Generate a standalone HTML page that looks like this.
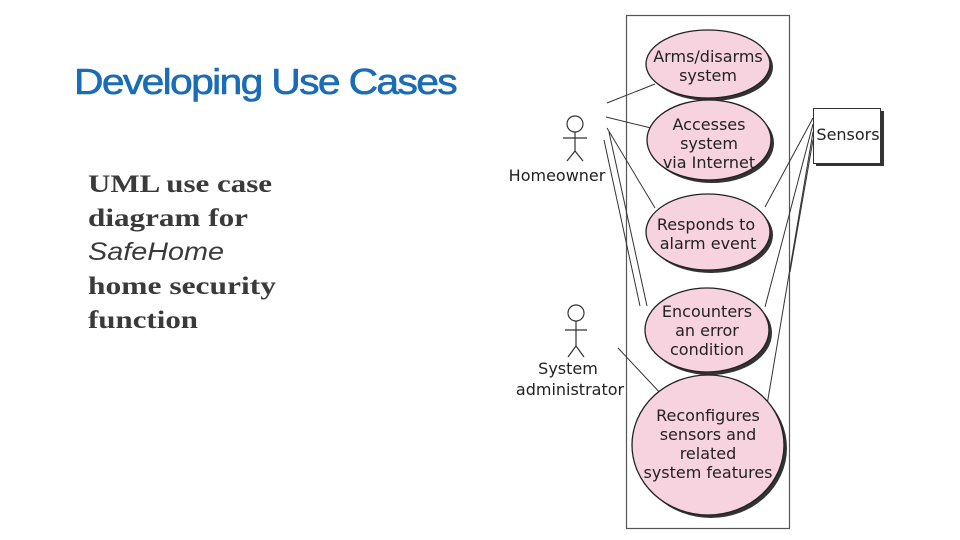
<!DOCTYPE html>
<html><head><meta charset="utf-8"><style>
html,body{margin:0;padding:0;background:#fff;width:960px;height:540px;overflow:hidden}
</style></head><body>
<svg width="960" height="540" viewBox="0 0 960 540" xmlns="http://www.w3.org/2000/svg">
<text x="74" y="94" font-family="Liberation Sans, sans-serif" font-size="36" fill="#1b6cb6" stroke="#1b6cb6" stroke-width="0.6" letter-spacing="-1.5" textLength="382" lengthAdjust="spacingAndGlyphs">Developing Use Cases</text>
<g font-family="Liberation Serif, serif" font-weight="bold" font-size="25" fill="#3a3a3a">
<text x="88" y="192" textLength="184" lengthAdjust="spacingAndGlyphs">UML use case</text>
<text x="88" y="226" textLength="160" lengthAdjust="spacingAndGlyphs">diagram for</text>
<text x="88" y="260" font-style="italic" font-weight="normal" font-family="Liberation Sans, sans-serif" textLength="136" lengthAdjust="spacingAndGlyphs">SafeHome</text>
<text x="88" y="294" textLength="188" lengthAdjust="spacingAndGlyphs">home security</text>
<text x="88" y="328" textLength="110" lengthAdjust="spacingAndGlyphs">function</text>
</g>
<rect x="626.5" y="15.5" width="163" height="513" fill="#fff" stroke="#555" stroke-width="1.2"/>
<g stroke="#333" stroke-width="1" fill="none">
<line x1="607" y1="103" x2="655" y2="84"/>
<line x1="606" y1="117" x2="651" y2="128"/>
<line x1="607" y1="128" x2="655" y2="208"/>
<line x1="609" y1="132" x2="647" y2="306"/>
<line x1="604" y1="140" x2="640" y2="306"/>
<line x1="618" y1="348" x2="663" y2="396"/>
<line x1="813" y1="118" x2="765" y2="207"/>
<line x1="813" y1="124" x2="765" y2="307"/>
<line x1="813" y1="132" x2="767" y2="405"/>
<line x1="813" y1="140" x2="790" y2="272"/>
</g>
<g stroke="#222" stroke-width="1.3">
<ellipse cx="711" cy="67" rx="62" ry="34" fill="#333" stroke="none"/>
<ellipse cx="708" cy="64" rx="62" ry="34" fill="#f7d3df"/>
<ellipse cx="712" cy="143" rx="62" ry="40" fill="#333" stroke="none"/>
<ellipse cx="709" cy="140" rx="62" ry="40" fill="#f7d3df"/>
<ellipse cx="711" cy="235" rx="62" ry="38" fill="#333" stroke="none"/>
<ellipse cx="708" cy="232" rx="62" ry="38" fill="#f7d3df"/>
<ellipse cx="710" cy="333" rx="62" ry="42" fill="#333" stroke="none"/>
<ellipse cx="707" cy="330" rx="62" ry="42" fill="#f7d3df"/>
<ellipse cx="711" cy="448" rx="76" ry="70" fill="#333" stroke="none"/>
<ellipse cx="708" cy="445" rx="76" ry="70" fill="#f7d3df"/>
</g>
<rect x="816" y="111" width="68" height="55" fill="#333"/>
<rect x="813.5" y="108.5" width="67" height="55" fill="#fff" stroke="#333"/>
<g font-family="DejaVu Sans, sans-serif" font-size="16" fill="#222" text-anchor="middle">
<text x="708" y="62">Arms/disarms</text><text x="708" y="81">system</text>
<text x="709" y="130">Accesses</text><text x="709" y="149">system</text><text x="709" y="168">via Internet</text>
<text x="706" y="230">Responds to</text><text x="708" y="249">alarm event</text>
<text x="707" y="317">Encounters</text><text x="707" y="336">an error</text><text x="707" y="355">condition</text>
<text x="708" y="421">Reconfigures</text><text x="708" y="440">sensors and</text><text x="708" y="459">related</text><text x="708" y="478">system features</text>
<text x="848" y="140">Sensors</text>
<text x="557" y="181">Homeowner</text>
<text x="568" y="374">System</text>
<text x="570" y="395">administrator</text>
</g>
<g stroke="#333" stroke-width="1.2" fill="none">
<circle cx="575" cy="124" r="8"/>
<line x1="575" y1="132" x2="575" y2="151"/><line x1="563" y1="138" x2="587" y2="138"/>
<line x1="575" y1="151" x2="567" y2="161"/><line x1="575" y1="151" x2="583" y2="161"/>
<circle cx="576" cy="313" r="8"/>
<line x1="576" y1="321" x2="576" y2="346"/><line x1="565" y1="330" x2="587" y2="330"/>
<line x1="576" y1="346" x2="568" y2="357"/><line x1="576" y1="346" x2="584" y2="357"/>
</g>
</svg>
</body></html>
